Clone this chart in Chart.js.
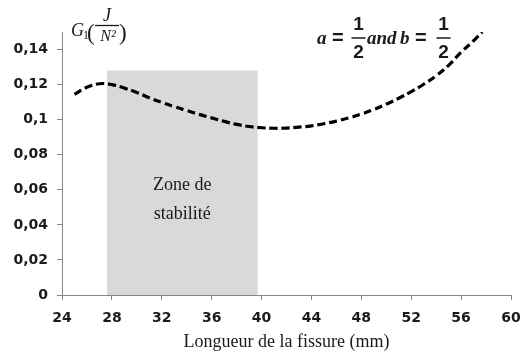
<!DOCTYPE html>
<html>
<head>
<meta charset="utf-8">
<script src="https://cdn.jsdelivr.net/npm/chart.js@4/dist/chart.umd.min.js"></script>
<style>
  html, body { margin: 0; padding: 0; background: #fff; }
</style>
</head>
<body>
<canvas id="chart-g1" width="531" height="356"></canvas>
<script>
// Data -------------------------------------
// --> values

const crack_length = [25, 26, 27, 28, 29, 30, 31, 32, 33, 34, 35, 36, 37, 38, 39, 40, 41,
    42, 43, 44, 45, 46, 47, 48, 49, 50, 51, 52, 53, 54, 55, 56, 57, 57.7]
const g1_values = [0.1145, 0.1185, 0.1205, 0.1200, 0.1180, 0.1155, 0.1125, 0.1098, 0.1074,
    0.1052, 0.1030, 0.1010, 0.0990, 0.0973, 0.0961, 0.0954, 0.0951, 0.0952, 0.0957, 0.0965,
    0.0977, 0.0992, 0.1010, 0.1032, 0.1058, 0.1088, 0.1122, 0.1160, 0.1202, 0.1250, 0.1310,
    0.1385, 0.1450, 0.1500]

// stability zone: crack length range and height
const zone_x = [27.6, 39.7]
const zone_top = [0.128, 0.128]

// axis ticks
const x_ticks = [24, 28, 32, 36, 40, 44, 48, 52, 56, 60]
const y_ticks = [0, 0.02, 0.04, 0.06, 0.08, 0.1, 0.12, 0.14]

// Colors -------------------------------------
const color_axis = '#868686'
const color_zone = '#d9d9d9'
const color_text = '#1a1a1a'

const tick_font = { family: 'DejaVu Sans', size: 14, weight: 'bold' }

// Annotations plugin -------------------------------------
// --> texts that Chart.js has no option for

const annotations = {
    id: 'annotations',
    afterDatasetsDraw(chart) {
        const ctx = chart.ctx
        const x = chart.scales.x
        ctx.save()
        ctx.fillStyle = color_text
        ctx.strokeStyle = color_text

        // zone label, centered in the grey box
        ctx.font = '18px "Liberation Serif"'
        ctx.textAlign = 'center'
        ctx.textBaseline = 'alphabetic'
        const cx = x.getPixelForValue((zone_x[0] + zone_x[1]) / 2)
        ctx.fillText('Zone de', cx, 190)
        ctx.fillText('stabilité', cx, 219)

        // y axis label G1(J/N²)
        ctx.textAlign = 'left'
        ctx.font = 'italic 18px "Liberation Serif"'
        ctx.fillText('G', 71, 36)
        ctx.font = '12px "Liberation Serif"'
        ctx.fillText('1', 83, 39)
        ctx.font = '23px "Liberation Serif"'
        ctx.fillText('(', 87, 40)
        ctx.fillText(')', 119, 40)
        ctx.textAlign = 'center'
        ctx.font = 'italic 18px "Liberation Serif"'
        ctx.fillText('J', 107, 21)
        ctx.font = 'italic 16px "Liberation Serif"'
        ctx.fillText('N\u00b2', 108, 41)
        ctx.lineWidth = 1.3
        ctx.beginPath()
        ctx.moveTo(95, 25.5)
        ctx.lineTo(119, 25.5)
        ctx.stroke()

        // parameters a = 1/2 and b = 1/2
        ctx.font = 'bold italic 19px "Liberation Serif"'
        ctx.textAlign = 'left'
        ctx.fillText('a', 317, 44)
        ctx.fillText('and', 367, 44)
        ctx.fillText('b', 400, 44)
        ctx.font = 'bold 20px "Liberation Sans"'
        ctx.fillText('=', 332, 44)
        ctx.fillText('=', 415, 44)
        ctx.font = 'bold 19px "Liberation Sans"'
        ctx.textAlign = 'center'
        const fracs = [358.5, 443.5]
        fracs.forEach(function (fx) {
            ctx.fillText('1', fx, 30)
            ctx.fillText('2', fx, 58)
            ctx.lineWidth = 1.5
            ctx.beginPath()
            ctx.moveTo(fx - 7, 38)
            ctx.lineTo(fx + 7, 38)
            ctx.stroke()
        })
        ctx.restore()
    }
}

// Chart -------------------------------------

const data = {
    datasets: [{
            label: 'G1',
            data: crack_length.map(function (v, i) { return { x: v, y: g1_values[i] } }),
            showLine: true,
            borderColor: '#000',
            borderWidth: 3.2,
            borderDash: [8, 4],
            borderCapStyle: 'butt',
            tension: 0.4,
            pointRadius: 0,
            fill: false,
            order: 1,
        },
        {
            label: 'Zone de stabilité',
            data: zone_x.map(function (v, i) { return { x: v, y: zone_top[i] } }),
            showLine: true,
            borderWidth: 0,
            borderColor: 'rgba(0,0,0,0)',
            backgroundColor: color_zone,
            pointRadius: 0,
            fill: 'origin',
            order: 2,
        },
    ]
}

const config = {
    type: 'scatter',
    data: data,
    plugins: [annotations],
    options: {
        responsive: false,
        animation: false,
        layout: {
            padding: { top: 32, right: 20, left: 0, bottom: 0 },
        },
        plugins: {
            legend: { display: false },
            tooltip: { enabled: false },
        },
        scales: {
            x: {
                type: 'linear',
                min: x_ticks[0],
                max: x_ticks[x_ticks.length - 1],
                afterBuildTicks: function (scale) {
                    scale.ticks = x_ticks.map(function (v) { return { value: v } })
                },
                ticks: {
                    font: tick_font,
                    color: color_text,
                    padding: 10,
                    maxRotation: 0,
                },
                grid: {
                    drawOnChartArea: false,
                    tickLength: 5,
                    color: color_axis,
                },
                border: { color: color_axis, width: 1 },
                title: {
                    display: true,
                    text: 'Longueur de la fissure (mm)',
                    font: { family: 'Liberation Serif', size: 18 },
                    color: color_text,
                    padding: { top: 2, bottom: 3 },
                },
                afterFit: function (scale) { scale.height = 61 },
            },
            y: {
                min: 0,
                max: 0.15,
                afterBuildTicks: function (scale) {
                    scale.ticks = y_ticks.map(function (v) { return { value: v } })
                },
                ticks: {
                    font: tick_font,
                    color: color_text,
                    padding: 9,
                    callback: function (v) {
                        return Number(v.toFixed(2)).toString().replace('.', ',')
                    },
                },
                grid: {
                    drawOnChartArea: false,
                    tickLength: 5,
                    color: color_axis,
                },
                border: { color: color_axis, width: 1 },
                afterFit: function (scale) { scale.width = 62 },
            },
        },
    }
}

const context = document.getElementById('chart-g1').getContext('2d')
const chart = new Chart(context, config)
</script>
</body>
</html>
